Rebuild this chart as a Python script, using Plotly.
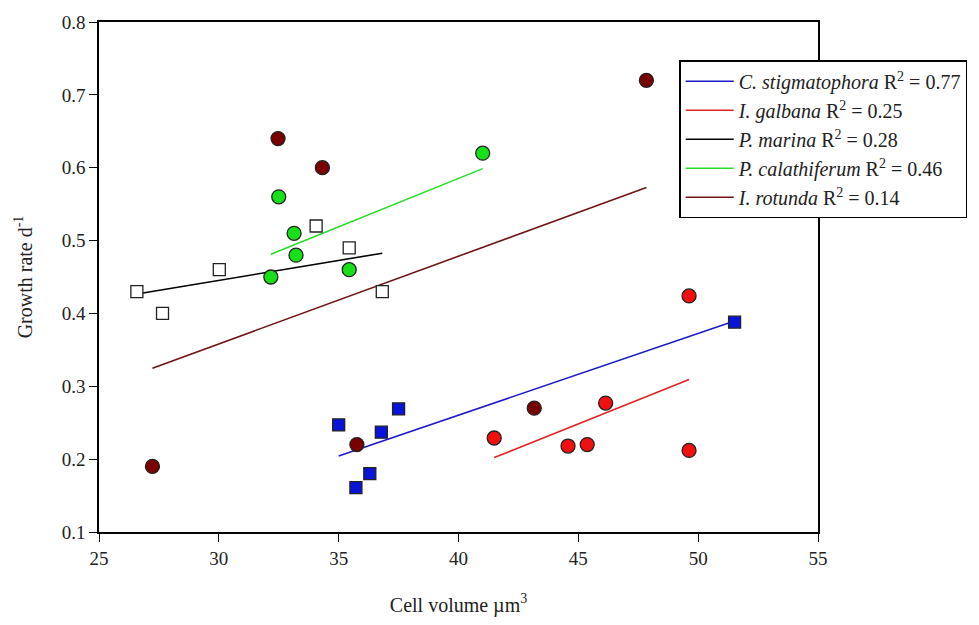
import numpy as np
import plotly.graph_objects as go

# Cell volume (µm^3) and growth rate (d^-1) per species
cs_x = [35.0, 37.5, 36.78, 36.3, 35.72, 51.52]
cs_y = [0.247, 0.269, 0.237, 0.18, 0.161, 0.388]
ig_x = [41.49, 44.57, 45.37, 46.14, 49.62, 49.62]
ig_y = [0.229, 0.218, 0.22, 0.277, 0.212, 0.424]
pm_x = [26.58, 27.65, 30.02, 34.06, 35.44, 36.82]
pm_y = [0.43, 0.40, 0.46, 0.52, 0.49, 0.43]
pc_x = [32.5, 33.14, 33.22, 32.17, 35.44, 41.01]
pc_y = [0.56, 0.51, 0.48, 0.45, 0.46, 0.62]
ir_x = [27.23, 32.47, 34.32, 35.76, 43.16, 47.84]
ir_y = [0.19, 0.64, 0.60, 0.22, 0.27, 0.72]

names = ["<i>C. stigmatophora</i> R<sup>2</sup> = 0.77",
         "<i>I. galbana</i> R<sup>2</sup> = 0.25",
         "<i>P. marina</i> R<sup>2</sup> = 0.28",
         "<i>P. calathiferum</i> R<sup>2</sup> = 0.46",
         "<i>I. rotunda</i> R<sup>2</sup> = 0.14"]

x_ticks = [25, 30, 35, 40, 45, 50, 55]
y_ticks = [0.1, 0.2, 0.3, 0.4, 0.5, 0.6, 0.7, 0.8]

series = [
    (cs_x, cs_y, "square", "#0a14d8", "#1a1ac8"),
    (ig_x, ig_y, "circle", "#f01010", "#e02424"),
    (pm_x, pm_y, "square", "#ffffff", "#000000"),
    (pc_x, pc_y, "circle", "#18e018", "#28dc28"),
    (ir_x, ir_y, "circle", "#7a0000", "#701414"),
]

SERIF = "Liberation Serif"

fig = go.Figure()
# regression lines (legend entries)
for (xs, ys, sym, mcol, lcol), nm in zip(series, names):
    xa = np.array(xs); ya = np.array(ys)
    k, b = np.polyfit(xa, ya, 1)
    xl = np.array([xa.min(), xa.max()])
    fig.add_trace(go.Scatter(x=xl, y=k * xl + b, mode="lines",
                             line=dict(color=lcol, width=1.6), name=nm,
                             legendgroup=nm))
# markers
for (xs, ys, sym, mcol, lcol), nm in zip(series, names):
    fig.add_trace(go.Scatter(x=xs, y=ys, mode="markers", showlegend=False,
                             marker=dict(symbol=sym, size=14 if sym == "circle" else 12,
                                         color=mcol,
                                         line=dict(color="#222222", width=1.3))))

tickfont = dict(family=SERIF, size=19, color="#222222")
axis_common = dict(showline=True, linecolor="black", linewidth=1.5, mirror=True,
                   ticks="outside", ticklen=8, tickwidth=1.3, tickcolor="black",
                   showgrid=False, zeroline=False)

fig.update_layout(
    width=979, height=625,
    font=dict(family=SERIF, size=19, color="#222222"),
    margin=dict(l=99, r=158, t=15, b=91),
    plot_bgcolor="white", paper_bgcolor="white",
    xaxis=dict(range=[25, 55], tickvals=x_ticks, tickfont=tickfont,
               title=dict(text="Cell volume µm<sup>3</sup>", standoff=30,
                          font=dict(family=SERIF, size=20, color="#222222")),
               **axis_common),
    yaxis=dict(range=[0.1, 0.8], tickvals=y_ticks, tickformat=".1f", tickfont=tickfont,
               title=dict(text="Growth rate d<sup>-1</sup>", standoff=24,
                          font=dict(family=SERIF, size=20, color="#222222")),
               **axis_common),
    legend=dict(x=0.807, y=0.925, xanchor="left", yanchor="top",
                bgcolor="white", bordercolor="black", borderwidth=1.5,
                font=dict(family=SERIF, size=20, color="#222222"),
                tracegroupgap=0, itemwidth=48),
    showlegend=True,
)

fig.write_html("out.html")
